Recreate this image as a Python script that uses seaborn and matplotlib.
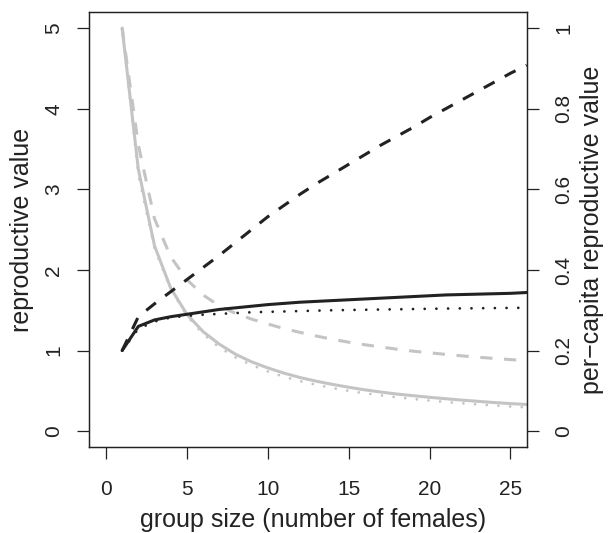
import matplotlib
matplotlib.use("Agg")
import matplotlib.pyplot as plt
import seaborn as sns

# group sizes (number of females)
group_size = list(range(1, 27))

# reproductive value (left axis, black lines)
value_solid = [1.00, 1.30, 1.38, 1.42, 1.45, 1.48, 1.51, 1.53, 1.55, 1.57,
               1.585, 1.60, 1.61, 1.62, 1.63, 1.64, 1.65, 1.66, 1.67, 1.68,
               1.69, 1.695, 1.70, 1.705, 1.71, 1.72]
value_dashed = [1.00, 1.42, 1.58, 1.73, 1.88, 2.03, 2.18, 2.34, 2.50, 2.66,
                2.80, 2.94, 3.07, 3.19, 3.31, 3.43, 3.55, 3.66, 3.77, 3.89,
                4.00, 4.11, 4.22, 4.33, 4.44, 4.54]
value_dotted = [1.00, 1.27, 1.36, 1.41, 1.43, 1.445, 1.455, 1.465, 1.475, 1.48,
                1.485, 1.49, 1.495, 1.50, 1.503, 1.506, 1.509, 1.512, 1.515, 1.518,
                1.521, 1.523, 1.525, 1.527, 1.529, 1.531]

# per-capita reproductive value (right axis, grey lines)
percap_solid = [1.00, 0.65, 0.46, 0.355, 0.29, 0.247, 0.216, 0.191, 0.172, 0.157,
                0.144, 0.133, 0.124, 0.116, 0.109, 0.1025, 0.097, 0.092, 0.088, 0.084,
                0.0805, 0.077, 0.074, 0.071, 0.0684, 0.0662]
percap_dashed = [1.00, 0.71, 0.527, 0.4325, 0.376, 0.338, 0.311, 0.2925, 0.278, 0.266,
                 0.2545, 0.245, 0.236, 0.228, 0.2207, 0.2144, 0.2088, 0.2033, 0.1984, 0.1945,
                 0.1905, 0.1868, 0.1835, 0.1804, 0.1776, 0.1746]
percap_dotted = [1.00, 0.635, 0.453, 0.3525, 0.286, 0.241, 0.208, 0.183, 0.164, 0.148,
                 0.135, 0.124, 0.115, 0.107, 0.100, 0.094, 0.0888, 0.084, 0.0797, 0.0759,
                 0.0724, 0.0692, 0.0663, 0.0636, 0.0612, 0.0589]

x_ticks = [0, 5, 10, 15, 20, 25]
left_ticks = [0, 1, 2, 3, 4, 5]
right_ticks = [0, 0.2, 0.4, 0.6, 0.8, 1]
right_labels = ["0", "0.2", "0.4", "0.6", "0.8", "1"]

sns.set_style("ticks")
plt.rcParams['font.family'] = ['Liberation Sans', 'DejaVu Sans']

ink = '#222222'
grey = '#c4c4c4'
dash = (0, (4.0, 3.8))
dot = (0, (0.01, 4.2))

fig = plt.figure(figsize=(6.1, 5.33), dpi=100)
ax = fig.add_axes([0.1464, 0.1608, 0.7170, 0.8167])
ax2 = ax.twinx()

# grey per-capita curves on the right axis
sns.lineplot(x=group_size, y=percap_solid, ax=ax2, color=grey, linewidth=2.2)
sns.lineplot(x=group_size, y=percap_dashed, ax=ax2, color=grey, linewidth=2.2,
             linestyle=dash)
sns.lineplot(x=group_size, y=percap_dotted, ax=ax2, color=grey, linewidth=2.0,
             linestyle=dot, dash_capstyle='round')

# black reproductive value curves on the left axis
sns.lineplot(x=group_size, y=value_solid, ax=ax, color=ink, linewidth=2.2)
sns.lineplot(x=group_size, y=value_dashed, ax=ax, color=ink, linewidth=2.2,
             linestyle=dash)
sns.lineplot(x=group_size, y=value_dotted, ax=ax, color=ink, linewidth=2.0,
             linestyle=dot, dash_capstyle='round')

# black lines above the grey ones
ax.set_zorder(ax2.get_zorder() + 1)
ax.patch.set_visible(False)

ax.set_xlim(-1.03, 26)
ax.set_ylim(-0.2, 5.2)
ax2.set_ylim(-0.04, 1.04)

ax.set_xticks(x_ticks)
ax.set_yticks(left_ticks)
ax.set_yticklabels([str(t) for t in left_ticks], rotation=90, va='center')
ax2.set_yticks(right_ticks)
ax2.set_yticklabels(right_labels, rotation=90, va='center')

for a in (ax, ax2):
    a.tick_params(direction='out', length=8.6, width=0.9, color=ink,
                  labelcolor=ink, labelsize=15)
    for s in a.spines.values():
        s.set_visible(True)
        s.set_color(ink)
        s.set_linewidth(0.9)
ax.tick_params(axis='x', pad=15)
ax.tick_params(axis='y', pad=10)
ax2.tick_params(axis='y', pad=11)

ax.set_xlabel("group size (number of females)", fontsize=18, color=ink,
              va='center')
ax.xaxis.set_label_coords(0.512, -0.167)
ax.set_ylabel("reproductive value", fontsize=18, color=ink, va='center')
ax.yaxis.set_label_coords(-0.154, 0.5)
ax2.set_ylabel("per\u2212capita reproductive value", fontsize=18, color=ink,
               va='center', rotation=90)
ax2.yaxis.set_label_coords(1.149, 0.5)

fig.savefig("out.png", dpi=100)
